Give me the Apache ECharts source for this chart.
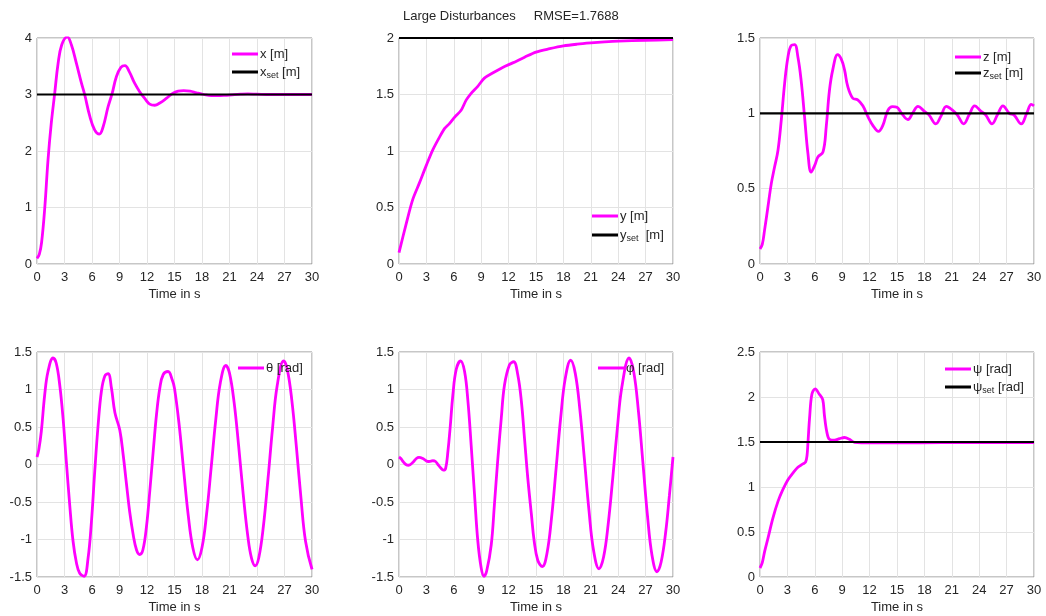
<!DOCTYPE html>
<html>
<head>
<meta charset="utf-8">
<script src="https://cdn.jsdelivr.net/npm/echarts@6/dist/echarts.min.js"></script>
<style>
  html, body { margin: 0; padding: 0; background: #ffffff; }
  #chart { width: 1046px; height: 616px; }
</style>
</head>
<body>
<div id="chart"></div>
<script>
// ---- Simulation traces (time in s, value) ----
const xTime = [0, 0.25, 0.5, 0.85, 1.2, 1.55, 1.93, 2.3, 2.7, 3.3, 3.75, 4.3, 4.85, 5.2, 5.75, 6.3, 6.8, 7.2, 7.75, 8.2, 8.65, 9.15, 9.6, 10.05, 10.65, 11.2, 11.75, 12.3, 12.85, 13.4, 14.1, 14.8, 15.4, 16.0, 16.7, 17.4, 18.2, 19.0, 19.7, 20.5, 21.3, 22.2, 23.0, 24.0, 25.5, 27, 30];
const xVal  = [0.1, 0.17, 0.38, 1.0, 1.84, 2.48, 3.02, 3.55, 3.88, 4.02, 3.88, 3.55, 3.2, 3.0, 2.62, 2.37, 2.30, 2.42, 2.78, 3.02, 3.31, 3.48, 3.51, 3.41, 3.2, 3.05, 2.93, 2.83, 2.81, 2.85, 2.93, 3.02, 3.06, 3.07, 3.06, 3.03, 3.0, 2.98, 2.98, 2.985, 2.995, 3.005, 3.01, 3.005, 3.0, 3.0, 3.0];

const yTime = [0, 0.8, 1.5, 2.25, 3.0, 3.7, 4.45, 5.0, 5.5, 6.1, 6.8, 7.35, 7.9, 8.6, 9.35, 10.25, 11.35, 12.45, 13.75, 15, 16.5, 18, 19.5, 21, 22.5, 24, 27, 30];
const yVal  = [0.1, 0.36, 0.57, 0.72, 0.875, 1.01, 1.125, 1.2, 1.24, 1.30, 1.36, 1.45, 1.51, 1.57, 1.645, 1.69, 1.74, 1.78, 1.83, 1.875, 1.905, 1.93, 1.945, 1.956, 1.965, 1.972, 1.98, 1.985];

const zTime = [0, 0.25, 0.5, 0.87, 1.24, 1.6, 1.97, 2.33, 2.7, 3.06, 3.42, 3.79, 4.15, 4.5, 4.88, 5.25, 5.6, 6.0, 6.34, 6.9, 7.25, 7.6, 7.97, 8.5, 8.9, 9.25, 9.6, 10.16, 10.7, 11.26, 11.8, 12.35, 12.97, 13.45, 14.0, 14.5, 15.0, 15.5, 16.2, 16.7, 17.3, 18.0, 18.5, 19.25, 19.8, 20.4, 21.1, 21.6, 22.3, 22.9, 23.5, 24.2, 24.7, 25.4, 26.0, 26.6, 27.3, 27.8, 28.6, 29.2, 29.7, 30];
const zVal  = [0.1, 0.13, 0.225, 0.38, 0.535, 0.645, 0.755, 0.955, 1.2, 1.374, 1.45, 1.456, 1.374, 1.22, 0.976, 0.733, 0.61, 0.656, 0.71, 0.744, 0.91, 1.15, 1.29, 1.39, 1.36, 1.29, 1.18, 1.10, 1.09, 1.05, 0.98, 0.92, 0.88, 0.92, 1.02, 1.045, 1.04, 1.0, 0.959, 1.0, 1.046, 1.013, 0.99, 0.93, 0.98, 1.046, 1.02, 0.99, 0.93, 0.99, 1.05, 1.013, 0.99, 0.93, 0.99, 1.05, 1.0, 0.99, 0.93, 1.0, 1.06, 1.05];

const thetaTime = [0, 0.2, 0.47, 0.84, 1.2, 1.75, 2.1, 2.48, 2.84, 3.2, 3.57, 3.93, 4.3, 4.66, 5.14, 5.57, 5.94, 6.3, 6.67, 7.03, 7.4, 7.76, 8.12, 8.5, 9.03, 9.4, 9.77, 10.1, 10.5, 10.86, 11.2, 11.55, 11.95, 12.3, 12.68, 13.04, 13.4, 13.77, 14.3, 14.75, 15.0, 15.5, 16.0, 16.5, 17.0, 17.5, 18.0, 18.5, 19.0, 19.5, 20.0, 20.6, 21.0, 21.5, 22.0, 22.5, 23.0, 23.4, 23.8, 24.2, 24.7, 25.2, 25.7, 26.2, 26.9, 27.3, 27.8, 28.3, 28.8, 29.3, 30];
const thetaVal  = [0.1, 0.2, 0.44, 0.93, 1.24, 1.42, 1.35, 1.06, 0.62, 0.04, -0.54, -1.02, -1.31, -1.45, -1.49, -1.25, -0.76, -0.09, 0.53, 0.98, 1.18, 1.21, 1.02, 0.69, 0.46, 0.13, -0.27, -0.62, -0.94, -1.14, -1.2, -1.14, -0.82, -0.36, 0.18, 0.67, 1.02, 1.2, 1.24, 1.13, 1.015, 0.537, -0.078, -0.679, -1.11, -1.27, -1.107, -0.66, -0.041, 0.595, 1.09, 1.32, 1.218, 0.831, 0.245, -0.402, -0.959, -1.248, -1.35, -1.24, -0.82, -0.19, 0.489, 1.05, 1.38, 1.27, 0.856, 0.232, -0.453, -1.027, -1.397];

const phiTime = [0, 0.2, 0.44, 0.75, 1.06, 1.53, 1.9, 2.19, 2.62, 3.17, 3.5, 3.72, 4.0, 4.26, 4.6, 4.85, 5.1, 5.36, 5.6, 5.9, 6.27, 6.74, 7.18, 7.55, 7.9, 8.27, 8.63, 9.0, 9.3, 9.6, 10.1, 10.45, 10.8, 11.2, 11.55, 12.1, 12.55, 13.0, 13.4, 13.74, 14.1, 14.5, 14.8, 15.2, 15.7, 16.2, 16.7, 17.2, 17.7, 18.2, 18.8, 19.3, 19.8, 20.3, 20.8, 21.3, 21.9, 22.4, 22.9, 23.4, 23.9, 24.4, 25.2, 25.7, 26.2, 26.7, 27.2, 27.7, 28.25, 28.7, 29.2, 29.6, 30];
const phiVal  = [0.1, 0.08, 0.04, 0.0, -0.01, 0.03, 0.08, 0.095, 0.08, 0.04, 0.045, 0.05, 0.04, 0.0, -0.05, -0.075, -0.055, 0.18, 0.49, 0.93, 1.27, 1.38, 1.24, 0.84, 0.26, -0.4, -1.02, -1.38, -1.49, -1.42, -1.07, -0.53, 0.04, 0.62, 1.06, 1.33, 1.37, 1.2, 0.84, 0.35, -0.18, -0.67, -1.02, -1.28, -1.36, -1.187, -0.712, -0.055, 0.62, 1.145, 1.39, 1.215, 0.735, 0.071, -0.612, -1.143, -1.39, -1.234, -0.8, -0.185, 0.474, 1.032, 1.42, 1.235, 0.729, 0.032, -0.675, -1.21, -1.43, -1.3, -0.9, -0.42, 0.1];

const psiTime = [0, 0.25, 0.51, 0.87, 1.42, 1.97, 2.5, 3.06, 3.6, 4.15, 4.7, 5.0, 5.15, 5.25, 5.43, 5.68, 6.04, 6.5, 6.87, 7.05, 7.3, 7.6, 8.15, 8.7, 9.25, 9.8, 10.35, 11.1, 15, 20, 30];
const psiVal  = [0.1, 0.16, 0.285, 0.43, 0.656, 0.84, 0.97, 1.08, 1.155, 1.22, 1.256, 1.28, 1.35, 1.49, 1.77, 2.03, 2.09, 2.03, 1.97, 1.80, 1.62, 1.53, 1.52, 1.537, 1.55, 1.53, 1.495, 1.49, 1.49, 1.492, 1.492];

// ---- Set points ----
const setTime = [0, 30];
const xSet = 3;
const ySet = 2;
const zSet = 1;
const psiSet = 1.5;

// ---- Axis tick settings ----
const timeMin = 0, timeMax = 30, timeStep = 3;
const yRanges = [
  [0, 4, 1],
  [0, 2, 0.5],
  [0, 1.5, 0.5],
  [-1.5, 1.5, 0.5],
  [-1.5, 1.5, 0.5],
  [0, 2.5, 0.5]
];

const TITLE = 'Large Disturbances     RMSE=1.7688';
const MAGENTA = '#ff00ff';
const BLACK = '#000000';
const TEXT = '#262626';
const FONT = '"Liberation Sans", Arial, Helvetica, sans-serif';
// legend swatch: a short horizontal bar centred in a 26x14 box
const SWATCH = 'path://M0,0L26,0M0,14L26,14M0,5.6L26,5.6L26,8.4L0,8.4Z';

const pairs = (ts, vs) => ts.map((t, i) => [t, vs[i]]);
const flat = (v) => setTime.map(t => [t, v]);

const grids = [
  { left: 37,  top: 38,  width: 275, height: 226 },
  { left: 399, top: 38,  width: 274, height: 226 },
  { left: 760, top: 38,  width: 274, height: 226 },
  { left: 37,  top: 352, width: 275, height: 225 },
  { left: 399, top: 352, width: 274, height: 225 },
  { left: 760, top: 352, width: 274, height: 225 }
];

const xAxes = grids.map((g, i) => ({
  type: 'value', gridIndex: i, min: timeMin, max: timeMax, interval: timeStep,
  axisLine: { show: false }, axisTick: { show: false },
  splitLine: { show: true, lineStyle: { color: '#e3e3e3', width: 1 } },
  axisLabel: { color: TEXT, fontSize: 13, fontFamily: FONT, margin: 7 },
  name: 'Time in s', nameLocation: 'middle', nameGap: 24,
  nameTextStyle: { color: TEXT, fontSize: 13, fontFamily: FONT, verticalAlign: 'top' }
}));

const yAxes = yRanges.map((r, i) => ({
  type: 'value', gridIndex: i, min: r[0], max: r[1], interval: r[2],
  axisLine: { show: false }, axisTick: { show: false },
  splitLine: { show: true, lineStyle: { color: '#e3e3e3', width: 1 } },
  axisLabel: { color: TEXT, fontSize: 13, fontFamily: FONT, margin: 5 }
}));

function trace(name, idx, data, color, width, smooth) {
  return {
    name: name, type: 'line', xAxisIndex: idx, yAxisIndex: idx,
    data: data, showSymbol: false, symbol: 'none',
    smooth: smooth, clip: true,
    lineStyle: { color: color, width: width },
    itemStyle: { color: color },
    emphasis: { disabled: true }, silent: true, animation: false
  };
}

const series = [
  trace('x [m]', 0, pairs(xTime, xVal), MAGENTA, 2.8, 0.4),
  trace('x_set [m]', 0, flat(xSet), BLACK, 2.2, false),
  trace('y [m]', 1, pairs(yTime, yVal), MAGENTA, 2.8, 0.3),
  trace('y_set [m]', 1, flat(ySet), BLACK, 2.2, false),
  trace('z [m]', 2, pairs(zTime, zVal), MAGENTA, 2.8, 0.4),
  trace('z_set [m]', 2, flat(zSet), BLACK, 2.2, false),
  trace('θ [rad]', 3, pairs(thetaTime, thetaVal), MAGENTA, 2.8, 0.4),
  trace('φ [rad]', 4, pairs(phiTime, phiVal), MAGENTA, 2.8, 0.4),
  trace('ψ [rad]', 5, pairs(psiTime, psiVal), MAGENTA, 2.8, 0.35),
  trace('ψ_set [rad]', 5, flat(psiSet), BLACK, 2.2, false)
];

// legend labels with "set" as subscript
const legendText = {
  'x [m]': 'x [m]',
  'x_set [m]': '{n|x}{s|set}{n| [m]}',
  'y [m]': 'y [m]',
  'y_set [m]': '{n|y}{s|set}{n|  [m]}',
  'z [m]': 'z [m]',
  'z_set [m]': '{n|z}{s|set}{n| [m]}',
  'θ [rad]': 'θ [rad]',
  'φ [rad]': 'φ [rad]',
  'ψ [rad]': 'ψ [rad]',
  'ψ_set [rad]': '{n|ψ}{s|set}{n| [rad]}'
};

function legend(names, left, top, gap) {
  return {
    data: names.map(n => ({ name: n, icon: SWATCH })),
    left: left, top: top, orient: 'vertical',
    itemWidth: 26, itemHeight: 14, itemGap: gap, padding: 0,
    selectedMode: false, backgroundColor: 'transparent',
    itemStyle: { borderWidth: 0 },
    formatter: (n) => legendText[n],
    textStyle: {
      color: TEXT, fontSize: 13, fontFamily: FONT,
      padding: [0, 0, 0, -3],
      rich: {
        n: { color: TEXT, fontSize: 13, fontFamily: FONT },
        s: { color: TEXT, fontSize: 9, fontFamily: FONT, padding: [8, 0, 0, 0] }
      }
    }
  };
}

const option = {
  backgroundColor: '#ffffff',
  animation: false,
  title: {
    text: TITLE, left: 398, top: 5,
    textStyle: { color: TEXT, fontSize: 13, fontWeight: 'normal', fontFamily: FONT }
  },
  grid: grids.map(g => Object.assign({ show: true, borderColor: '#8f8f8f', borderWidth: 1, backgroundColor: 'transparent' }, g)),
  xAxis: xAxes,
  yAxis: yAxes,
  legend: [
    legend(['x [m]', 'x_set [m]'], 232, 47, 4),
    legend(['y [m]', 'y_set [m]'], 592, 209, 5),
    legend(['z [m]', 'z_set [m]'], 955, 50, 2),
    legend(['θ [rad]'], 238, 361, 4),
    legend(['φ [rad]'], 598, 361, 4),
    legend(['ψ [rad]', 'ψ_set [rad]'], 945, 362, 4)
  ],
  series: series
};

const chart = echarts.init(document.getElementById('chart'), null, { renderer: 'canvas' });
chart.setOption(option);
</script>
</body>
</html>
